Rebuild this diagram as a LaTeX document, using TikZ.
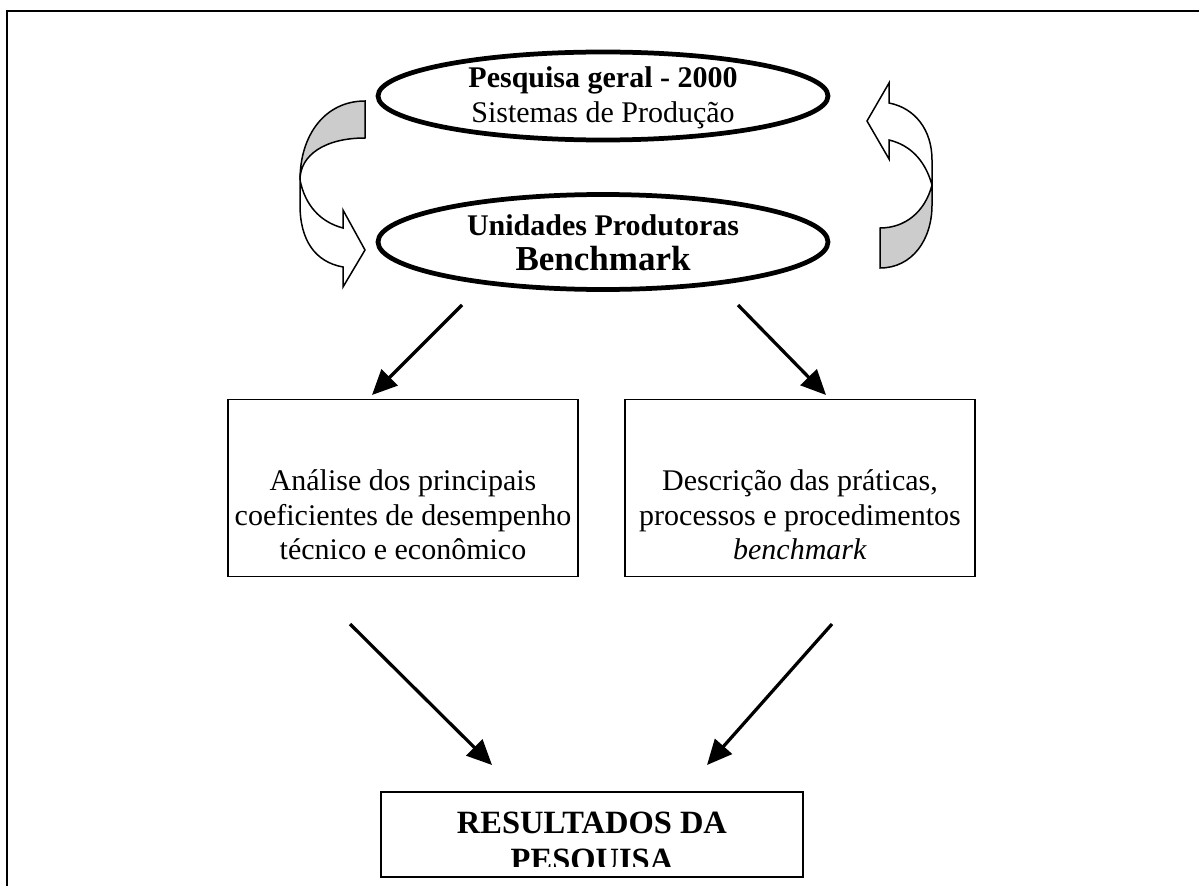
\documentclass[tikz,border=0pt]{standalone}
\usepackage{fontspec}
\setmainfont{Liberation Serif}
\usetikzlibrary{arrows.meta,shapes.geometric}

\tikzset{
  elipse/.style={draw, ellipse, line width=1.9pt, minimum width=180pt, inner sep=0pt},
  caixa/.style={draw, rectangle, line width=0.7pt, minimum width=140pt, minimum height=70.8pt, inner sep=0pt},
  texto/.style={align=center, inner sep=0pt, font=\fontsize{12}{13.8}\selectfont},
  seta/.style={line width=1.3pt, -{Triangle[length=10pt,width=9pt]}},
  dobra/.style={draw, line width=0.6pt, line join=miter},
}

\begin{document}
\begin{tikzpicture}[x=0.4pt, y=-0.4pt]
\useasboundingbox (0,0) rectangle (1199,886);
% moldura da tabela
\draw[line width=1.1pt] (1199,11) -- (7,11) -- (7,886);

% elipses
\node[elipse, minimum height=35.2pt] (pesquisa) at (603,96) {};
\node[texto] (pesquisatxt) at (603,98) {\textbf{Pesquisa geral - 2000}\\Sistemas de Produção};
\node[elipse, minimum height=38pt] (unidades) at (603,242) {};
\node[texto] (unidadestxt) at (603,243) {\textbf{Unidades Produtoras}\\{\fontsize{14}{14}\selectfont\bfseries Benchmark}};

% setas curvas (esquerda)
\filldraw[dobra, fill=black!20] (365,101) .. controls (325,101) and (300,135) .. (300,180)
  .. controls (300,155) and (325,138) .. (365,138) -- cycle;
\filldraw[dobra, fill=white] (300,180) .. controls (305,205) and (320,222) .. (343,228)
  -- (343,210) -- (365,250) -- (343,287) -- (343,267)
  .. controls (315,262) and (300,240) .. (300,205) -- cycle;
% setas curvas (direita)
\filldraw[dobra, fill=black!20] (880,268) .. controls (912,268) and (932,240) .. (932,205) -- (932,185)
  .. controls (925,212) and (905,228) .. (880,228) -- cycle;
\filldraw[dobra, fill=white] (932,185) .. controls (925,160) and (910,145) .. (889,140)
  -- (889,159) -- (867,121) -- (889,83) -- (889,103)
  .. controls (915,108) and (932,130) .. (932,160) -- cycle;

% caixas
\node[caixa] (analise) at (403,488) {};
\node[texto] (analisetxt) at (403,515) {Análise dos principais\\coeficientes de desempenho\\técnico e econômico};
\node[caixa] (descricao) at (800,488) {};
\node[texto] (descricaotxt) at (800,515) {Descrição das práticas,\\processos e procedimentos\\\textit{benchmark}};

% resultado (texto cortado pela caixa)
\node[caixa, minimum width=168.8pt, minimum height=34pt] (resultado) at (592,834.5) {};
\begin{scope}
\clip ([yshift=4.4pt]resultado.south west) rectangle (resultado.north east);
\node[texto, anchor=north, font=\fontsize{13}{14.8}\selectfont\bfseries] (resultadotxt) at (592,811) {RESULTADOS DA\\PESQUISA};
\end{scope}

% setas retas
\coordinate (u1) at (462,305);
\coordinate (u2) at (738,305);
\coordinate (a1) at (372,395);
\coordinate (d1) at (826,395);
\coordinate (a2) at (350,624);
\coordinate (d2) at (832,624);
\coordinate (r1) at (492,765);
\coordinate (r2) at (707,765);
\draw[seta] (u1) -- (a1);
\draw[seta] (u2) -- (d1);
\draw[seta] (a2) -- (r1);
\draw[seta] (d2) -- (r2);
\end{tikzpicture}
\end{document}
